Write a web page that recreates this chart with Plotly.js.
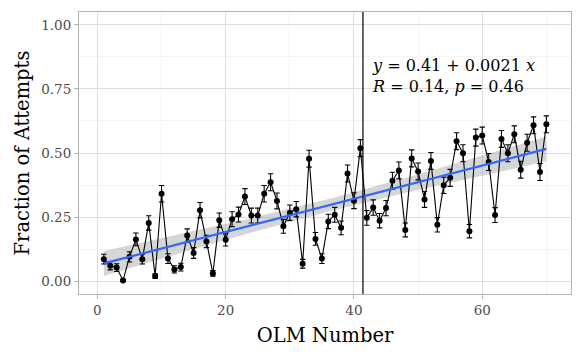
<!DOCTYPE html>
<html>
<head>
<meta charset="utf-8">
<script src="https://cdn.plot.ly/plotly-3.0.1.min.js"></script>
<style>html,body{margin:0;padding:0;background:#fff;}#chart{width:583px;height:360px;}</style>
</head>
<body>
<div id="chart"></div>
<script>
// OLM number (x) and fraction of attempts (y) with standard error
const olmNumber = [1,2,3,4,5,6,7,8,9,10,11,12,13,14,15,16,17,18,19,20,21,22,23,24,25,26,27,28,29,30,31,32,33,34,35,36,37,38,39,40,41,42,43,44,45,46,47,48,49,50,51,52,53,54,55,56,57,58,59,60,61,62,63,64,65,66,67,68,69,70];
const fraction = [0.086,0.060,0.053,0.003,0.095,0.163,0.086,0.227,0.020,0.341,0.088,0.046,0.055,0.178,0.110,0.277,0.155,0.030,0.238,0.162,
                  0.242,0.260,0.330,0.256,0.256,0.341,0.386,0.313,0.214,0.267,0.281,0.068,0.478,0.165,0.088,0.233,0.259,0.208,0.420,0.314,
                  0.519,0.247,0.287,0.236,0.285,0.392,0.432,0.200,0.479,0.428,0.319,0.469,0.220,0.374,0.403,0.546,0.499,0.195,0.560,0.568,
                  0.465,0.258,0.555,0.499,0.573,0.435,0.540,0.608,0.426,0.612];
const stdErr = [0.019,0.016,0.015,0.004,0.020,0.025,0.019,0.028,0.009,0.032,0.019,0.014,0.015,0.026,0.021,0.030,0.024,0.011,0.028,0.025,
                0.029,0.029,0.031,0.029,0.029,0.032,0.033,0.031,0.027,0.030,0.030,0.017,0.033,0.025,0.019,0.028,0.029,0.027,0.033,0.031,
                0.033,0.029,0.030,0.028,0.030,0.033,0.033,0.027,0.033,0.033,0.031,0.033,0.028,0.032,0.033,0.033,0.033,0.026,0.033,0.033,
                0.033,0.029,0.033,0.033,0.033,0.033,0.033,0.033,0.033,0.033];
const xTickVals = [0,20,40,60];
const yTickVals = [0,0.25,0.5,0.75,1];
const yTickText = ["0.00","0.25","0.50","0.75","1.00"];
const vlineX = 41.4;
const annotationText = "<i>y</i> = 0.41 + 0.0021 <i>x</i><br><i>R</i> = 0.14, <i>p</i> = 0.46";
const annotationPos = {x: 42.45, y: 0.885};

// linear fit with 95% confidence band (as geom_smooth(method="lm"))
const n = olmNumber.length;
const xbar = olmNumber.reduce((a,b)=>a+b,0)/n;
const ybar = fraction.reduce((a,b)=>a+b,0)/n;
let sxx=0, sxy=0;
for (let i=0;i<n;i++){ sxx += (olmNumber[i]-xbar)**2; sxy += (olmNumber[i]-xbar)*(fraction[i]-ybar); }
const slope = sxy/sxx, intercept = ybar - slope*xbar;
let sse=0;
for (let i=0;i<n;i++){ sse += (fraction[i]-intercept-slope*olmNumber[i])**2; }
const s = Math.sqrt(sse/(n-2));
const tq = 1.995;
const xmin = Math.min(...olmNumber), xmax = Math.max(...olmNumber);
const fx=[], fy=[], lo=[], hi=[];
for (let k=0;k<80;k++){
  const xv = xmin + (xmax-xmin)*k/79;
  const yv = intercept + slope*xv;
  const se = s*Math.sqrt(1/n + (xv-xbar)**2/sxx);
  fx.push(xv); fy.push(yv); lo.push(yv - tq*se); hi.push(yv + tq*se);
}

const FONT = "DejaVu Serif";
const traces = [
  {x: fx.concat(fx.slice().reverse()), y: hi.concat(lo.slice().reverse()), type:'scatter', mode:'lines',
   fill:'toself', fillcolor:'rgba(153,153,153,0.4)', line:{width:0}, hoverinfo:'skip', showlegend:false},
  {x: olmNumber, y: fraction, type:'scatter', mode:'lines+markers',
   line:{color:'#000', width:1.1}, marker:{color:'#000', size:6},
   error_y:{type:'data', array: stdErr, visible:true, color:'#000', thickness:1.1, width:2.7},
   showlegend:false},
  {x: fx, y: fy, type:'scatter', mode:'lines', line:{color:'#3366FF', width:2.2}, showlegend:false}
];

const layout = {
  width:583, height:360,
  margin:{l:79, r:12, t:12, b:66},
  paper_bgcolor:'#fff', plot_bgcolor:'#fff',
  font:{family:FONT, color:'#000'},
  xaxis:{range:[-2.87,73.84], tickvals:xTickVals, ticktext:xTickVals.map(String),
    showgrid:true, gridcolor:'#dedede', gridwidth:1,
    minor:{tickvals:[10,30,50,70], showgrid:true, gridcolor:'#ededed', gridwidth:0.6, ticks:''},
    ticks:'outside', ticklen:4, tickcolor:'#b3b3b3', tickwidth:1,
    showline:true, linecolor:'#b3b3b3', linewidth:1, mirror:true, zeroline:false,
    tickfont:{family:FONT, size:13.5, color:'#4d4d4d'},
    title:{text:'OLM Number', font:{family:FONT, size:19.5, color:'#000'}, standoff:11}},
  yaxis:{range:[-0.05,1.05], tickvals:yTickVals, ticktext:yTickText,
    showgrid:true, gridcolor:'#dedede', gridwidth:1,
    minor:{tickvals:[0.125,0.375,0.625,0.875], showgrid:true, gridcolor:'#ededed', gridwidth:0.6, ticks:''},
    ticks:'outside', ticklen:4, tickcolor:'#b3b3b3', tickwidth:1,
    showline:true, linecolor:'#b3b3b3', linewidth:1, mirror:true, zeroline:false,
    tickfont:{family:FONT, size:13.5, color:'#4d4d4d'},
    title:{text:'Fraction of Attempts', font:{family:FONT, size:19.5, color:'#000'}, standoff:6}},
  shapes:[{type:'line', xref:'x', yref:'paper', x0:vlineX, x1:vlineX, y0:0, y1:1, line:{color:'#000', width:1.2}}],
  annotations:[{x:annotationPos.x, y:annotationPos.y, xref:'x', yref:'y', xanchor:'left', yanchor:'top', align:'left',
    showarrow:false, text:annotationText, font:{family:FONT, size:16, color:'#000'}}]
};
Plotly.newPlot('chart', traces, layout, {displayModeBar:false, staticPlot:true});
</script>
</body>
</html>
